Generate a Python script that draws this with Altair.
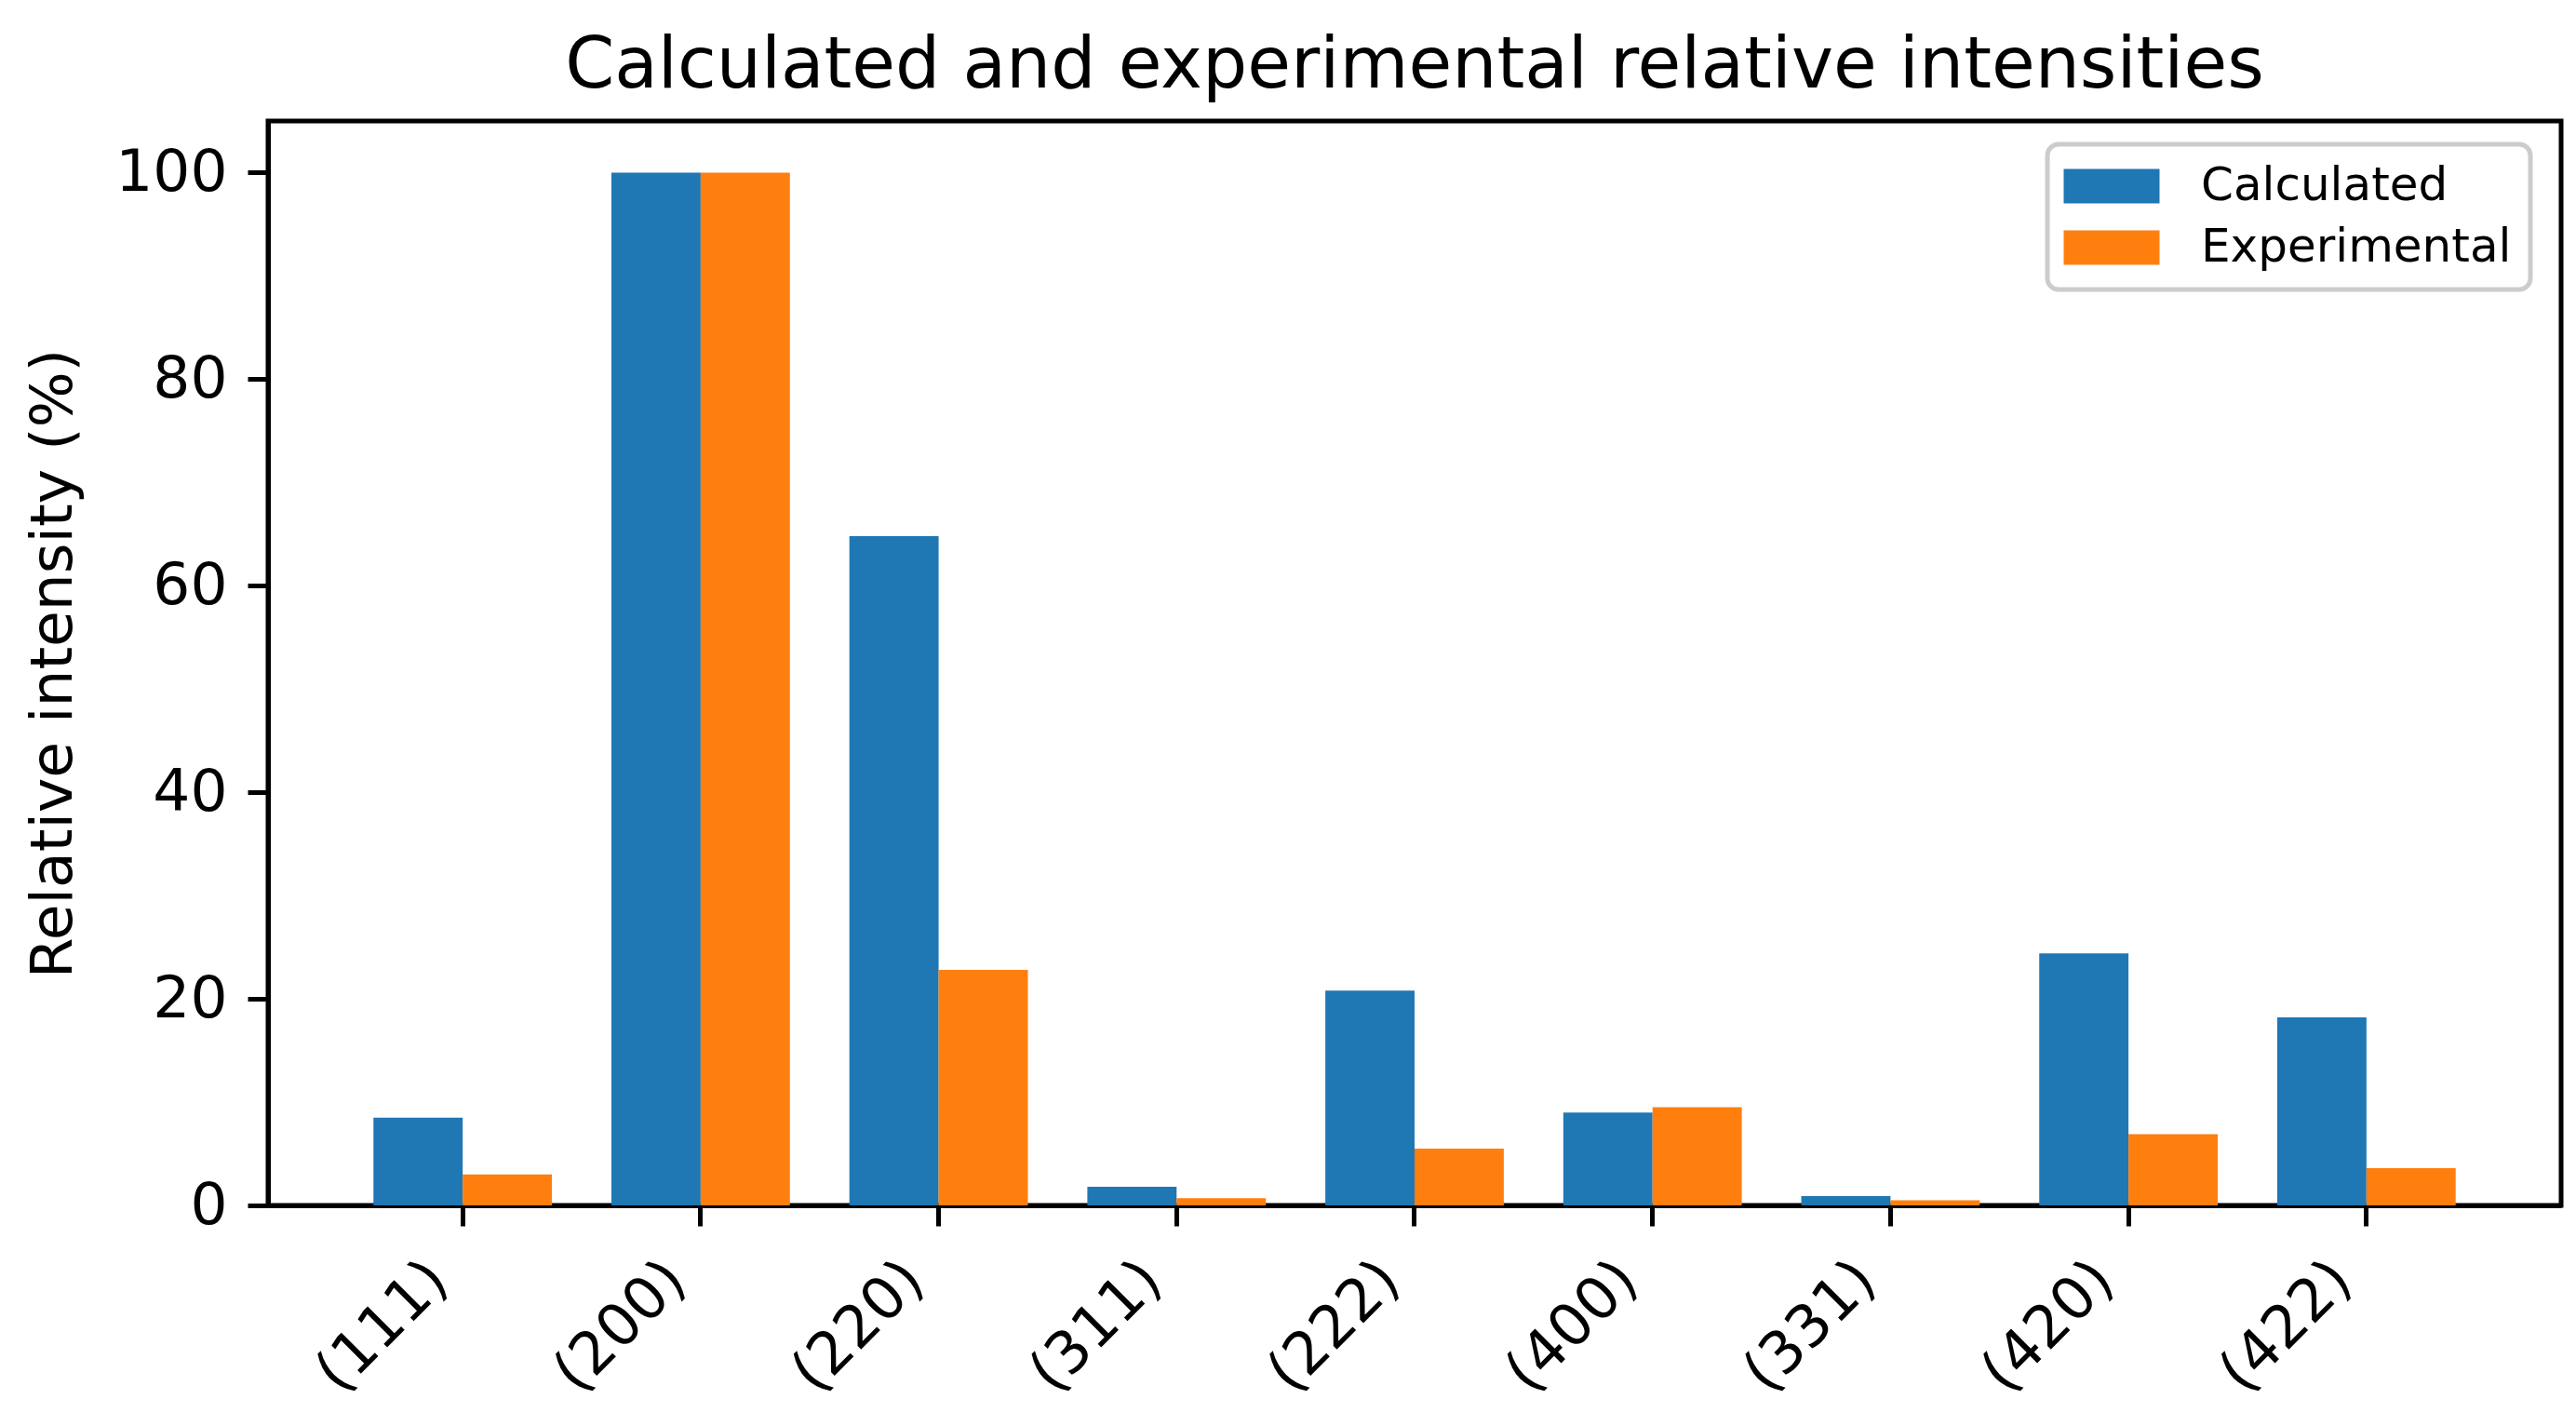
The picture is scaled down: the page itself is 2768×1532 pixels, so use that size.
import altair as alt
import pandas as pd

categories = ["(111)", "(200)", "(220)", "(311)", "(222)", "(400)", "(331)", "(420)", "(422)"]
calculated = [8.5, 100.0, 64.8, 1.8, 20.8, 9.0, 0.9, 24.4, 18.2]
experimental = [3.0, 100.0, 22.8, 0.7, 5.5, 9.5, 0.5, 6.9, 3.6]
series_names = ["Calculated", "Experimental"]
series_colors = ["#1f77b4", "#ff7f0e"]
y_ticks = [0, 20, 40, 60, 80, 100]

rows = []
for c, a, b in zip(categories, calculated, experimental):
    rows.append({"plane": c, "series": "Calculated", "value": a})
    rows.append({"plane": c, "series": "Experimental", "value": b})
df = pd.DataFrame(rows)

FONT = "DejaVu Sans"
FS = 63

chart = alt.Chart(df).mark_bar().encode(
    x=alt.X("plane:N", sort=categories,
            scale=alt.Scale(paddingInner=0.25, paddingOuter=0.443),
            axis=alt.Axis(title=None, labelAngle=315, labelAlign="right",
                          labelBaseline="middle", labelPadding=48, labelOffset=-26,
                          tickSize=22, tickWidth=5, tickColor="black",
                          domainColor="black", domainWidth=5,
                          labelFontSize=FS, labelFont=FONT, labelColor="black")),
    xOffset=alt.XOffset("series:N", sort=series_names,
                        scale=alt.Scale(paddingInner=0, paddingOuter=0)),
    y=alt.Y("value:Q", scale=alt.Scale(domain=[0, 105], nice=False),
            axis=alt.Axis(title="Relative intensity (%)", values=y_ticks, grid=False,
                          tickSize=22, tickWidth=5, tickColor="black",
                          domainColor="black", domainWidth=5, labelPadding=22,
                          labelFontSize=FS, labelFont=FONT, labelColor="black",
                          titleFontSize=FS, titleFont=FONT, titleFontWeight="normal",
                          titleColor="black", titlePadding=34)),
    color=alt.Color("series:N", sort=series_names,
                    scale=alt.Scale(domain=series_names, range=series_colors),
                    legend=alt.Legend(title=None, orient="none", legendX=1912, legendY=25,
                                      symbolType="M-2.06,-0.74H2.06V0.74H-2.06Z",
                                      symbolSize=2500, symbolStrokeWidth=0,
                                      symbolOpacity=1, symbolOffset=24,
                                      labelFontSize=50, labelFont=FONT, labelColor="black",
                                      labelLimit=0, labelOffset=71, rowPadding=16, padding=20,
                                      strokeColor="#cccccc", fillColor="white",
                                      cornerRadius=12)),
).properties(
    width=2464, height=1165,
    title=alt.TitleParams("Calculated and experimental relative intensities",
                          fontSize=76, font=FONT, fontWeight="normal", color="black",
                          anchor="middle", frame="group", baseline="alphabetic",
                          offset=38, dy=78),
    autosize=alt.AutoSizeParams(type="none"),
    padding={"left": 280, "top": 122, "right": 8, "bottom": 229},
).configure_view(stroke="black", strokeWidth=5).configure_legend(strokeWidth=5)

chart.save("out.html", embed_options={"renderer": "svg", "actions": False})
